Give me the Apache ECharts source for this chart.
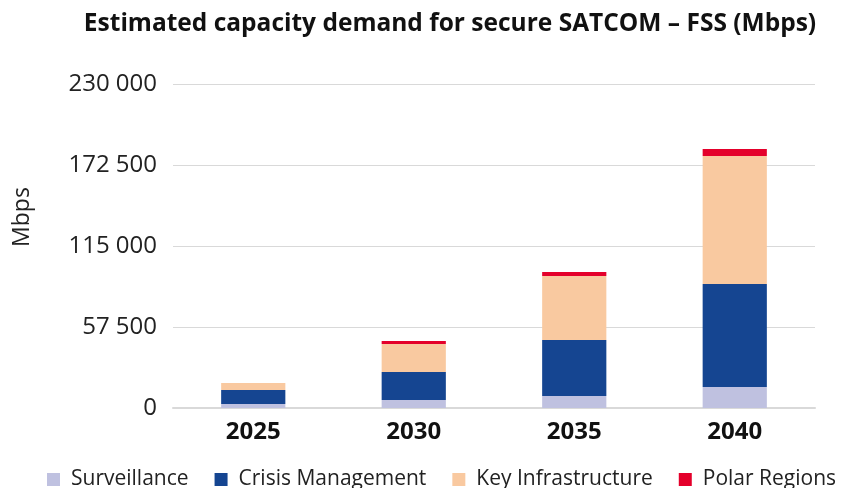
<!DOCTYPE html>
<html lang="en">
<head>
    <meta charset="UTF-8">
    <title>SATCOM FSS demand</title>
    <script src="https://cdn.jsdelivr.net/npm/echarts@6/dist/echarts.min.js"></script>
    <style>
        html, body { margin: 0; padding: 0; background: #fff; }
        #chart { width: 843px; height: 488px; }
    </style>
</head>
<body>
<div id="chart"></div>
<script>
    var years = ["2025", "2030", "2035", "2040"];
    var surveillance = [2800, 5700, 8500, 14900];
    var crisisManagement = [10000, 19900, 39800, 73100];
    var keyInfrastructure = [5000, 19900, 45400, 90900];
    var polarRegions = [0, 2100, 2800, 5000];

    var font = "'Open Sans', 'Noto Sans', sans-serif";

    function fmt(v) {
        return String(v).replace(/\B(?=(\d{3})+(?!\d))/g, " ");
    }

    function bar(name, data, color) {
        return {
            name: name,
            type: "bar",
            stack: "total",
            barWidth: "40%",
            itemStyle: {color: color},
            data: data
        };
    }

    var chart = echarts.init(document.getElementById("chart"));
    chart.setOption({
        animation: false,
        title: {
            text: "Estimated capacity demand for secure SATCOM \u2013 FSS (Mbps)",
            left: 445,
            textAlign: "center",
            top: 7,
            textStyle: {fontFamily: font, fontSize: 24.5, fontWeight: "bold", color: "#111"}
        },
        legend: {
            bottom: -7,
            left: 42,
            itemWidth: 13,
            itemHeight: 13,
            itemGap: 26,
            icon: "rect",
            textStyle: {fontFamily: font, fontSize: 21, color: "#222", padding: [0, 0, 0, 6]},
            data: ["Surveillance", "Crisis Management", "Key Infrastructure", "Polar Regions"]
        },
        // axis title placed by hand (sits above the plot centre in the original)
        graphic: [{
            type: "text",
            x: 22,
            y: 217,
            rotation: Math.PI / 2,
            style: {
                text: "Mbps",
                fontFamily: font,
                fontSize: 23,
                fill: "#222",
                align: "center",
                verticalAlign: "middle"
            }
        }],
        grid: {left: 173, right: 28, top: 84, bottom: 80},
        xAxis: {
            type: "category",
            data: years,
            axisTick: {show: false},
            axisLine: {lineStyle: {color: "#d9d9d9", width: 2}},
            axisLabel: {fontFamily: font, fontSize: 24, fontWeight: "bold", color: "#111", margin: 12}
        },
        yAxis: {
            type: "value",
            min: 0,
            max: 230000,
            interval: 57500,
            axisLabel: {fontFamily: font, fontSize: 24, color: "#222", margin: 16, formatter: fmt},
            splitLine: {lineStyle: {color: "#d9d9d9", width: 1}}
        },
        series: [
            bar("Surveillance", surveillance, "#bfc1e0"),
            bar("Crisis Management", crisisManagement, "#154591"),
            bar("Key Infrastructure", keyInfrastructure, "#f9c9a0"),
            bar("Polar Regions", polarRegions, "#e4002b")
        ]
    });
</script>
</body>
</html>
